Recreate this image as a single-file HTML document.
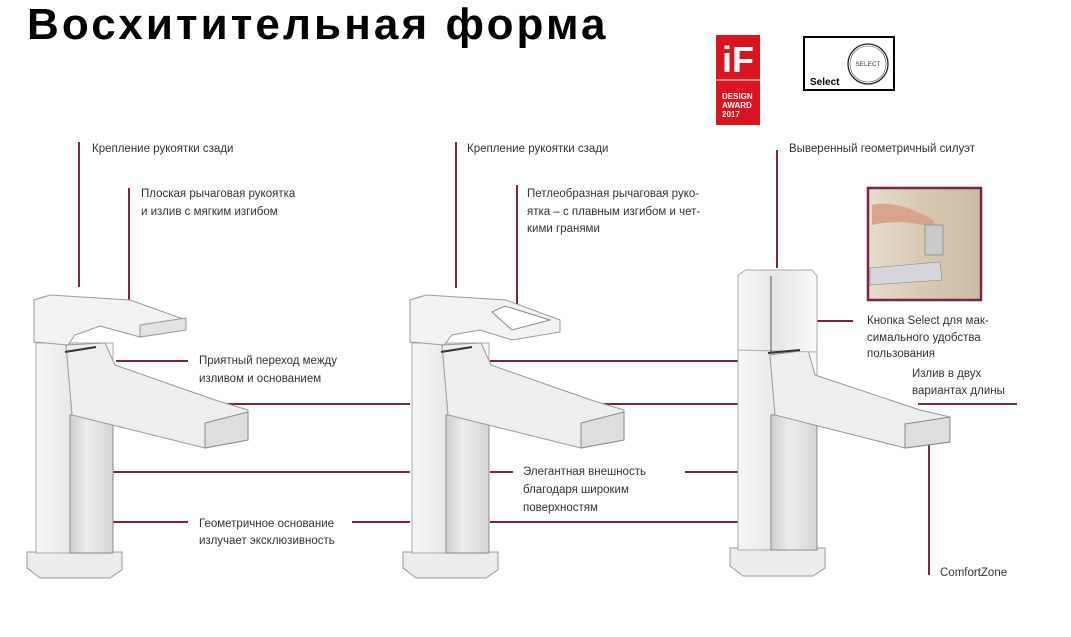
<!DOCTYPE html>
<html><head><meta charset="utf-8"><style>
html,body{margin:0;padding:0;background:#fff;}
body{width:1071px;height:637px;overflow:hidden;position:relative;font-family:"Liberation Sans","DejaVu Sans",sans-serif;}
svg{position:absolute;left:0;top:0;}
.t{font-family:"Liberation Sans",sans-serif;font-size:11.5px;fill:#333;}
</style></head><body>
<svg width="1071" height="637" viewBox="0 0 1071 637">
<defs>
<linearGradient id="ch" x1="0" y1="0" x2="1" y2="0">
<stop offset="0" stop-color="#f7f7f7"/><stop offset="0.5" stop-color="#e6e6e6"/><stop offset="1" stop-color="#f9f9f9"/></linearGradient>
<linearGradient id="ch2" x1="0" y1="0" x2="1" y2="0">
<stop offset="0" stop-color="#cfcfcf"/><stop offset="0.4" stop-color="#ececec"/><stop offset="1" stop-color="#d5d5d5"/></linearGradient>
<linearGradient id="ph" x1="0" y1="0" x2="1" y2="0">
<stop offset="0" stop-color="#e8dccd"/><stop offset="0.5" stop-color="#d8c8b0"/><stop offset="1" stop-color="#cbbba3"/></linearGradient>
<g id="fau">
<polygon points="27,552 122,552 122,570 110,578 40,578 27,568" fill="#ececec" stroke="#999" stroke-width="1"/>
<rect x="36" y="343" width="77" height="210" fill="url(#ch)" stroke="#aaa" stroke-width="1"/>
<rect x="70" y="415" width="43" height="138" fill="url(#ch2)" stroke="#888" stroke-width="1"/>
<polygon points="66,345 105,343 115,365 215,400 248,410 248,440 205,448 72,415" fill="#eeeeee" stroke="#999" stroke-width="1"/>
<polygon points="205,423 248,412 248,440 205,448" fill="#dedede" stroke="#888" stroke-width="1"/>
</g>
</defs>

<text x="27" y="39" font-family="'Liberation Sans',sans-serif" font-weight="bold" font-size="44" letter-spacing="3.1" fill="#000">Восхитительная форма</text>

<!-- iF logo -->
<rect x="716" y="35" width="44" height="90" fill="#d9141e"/>
<line x1="716" y1="80" x2="760" y2="80" stroke="#fff" stroke-width="1"/>
<text x="738" y="72" text-anchor="middle" font-family="'Liberation Sans',sans-serif" font-weight="bold" font-size="36" fill="#fff">iF</text>
<text x="722" y="99" font-family="'Liberation Sans',sans-serif" font-weight="bold" font-size="8" fill="#fff">DESIGN</text>
<text x="722" y="108" font-family="'Liberation Sans',sans-serif" font-weight="bold" font-size="8" fill="#fff">AWARD</text>
<text x="722" y="117" font-family="'Liberation Sans',sans-serif" font-weight="bold" font-size="8" fill="#fff">2017</text>

<!-- Select logo -->
<rect x="804" y="37" width="90" height="53" fill="#fff" stroke="#000" stroke-width="2"/>
<circle cx="868" cy="64" r="20" fill="none" stroke="#222" stroke-width="1.3"/>
<circle cx="868" cy="64" r="18" fill="none" stroke="#555" stroke-width="0.6"/>
<text x="868" y="66" text-anchor="middle" font-size="6.5" fill="#444" font-family="'Liberation Sans',sans-serif">SELECT</text>
<text x="810" y="85" font-size="10" font-weight="bold" fill="#000" font-family="'Liberation Sans',sans-serif">Select</text>

<!-- connector lines -->
<g stroke="#7a2544" stroke-width="2" fill="none">
<line x1="79" y1="142" x2="79" y2="287"/>
<line x1="129" y1="188" x2="129" y2="302"/>
<line x1="456" y1="142" x2="456" y2="288"/>
<line x1="517" y1="185" x2="517" y2="305"/>
<line x1="777" y1="150" x2="777" y2="268"/>
<line x1="116" y1="361" x2="188" y2="361"/>
<line x1="215" y1="404" x2="410" y2="404"/>
<line x1="113" y1="472" x2="410" y2="472"/>
<line x1="113" y1="522" x2="188" y2="522"/>
<line x1="352" y1="522" x2="410" y2="522"/>
<line x1="490" y1="361" x2="740" y2="361"/>
<line x1="590" y1="404" x2="740" y2="404"/>
<line x1="490" y1="472" x2="513" y2="472"/>
<line x1="685" y1="472" x2="740" y2="472"/>
<line x1="490" y1="522" x2="740" y2="522"/>
<line x1="817" y1="321" x2="853" y2="321"/>
<line x1="918" y1="404" x2="1017" y2="404"/>
<line x1="929" y1="445" x2="929" y2="575"/>
</g>

<!-- left faucet -->
<use href="#fau"/>
<polygon points="34,300 50,295 130,300 186,320 186,330 140,337 100,326 75,335 68,345 34,342" fill="#f2f2f2" stroke="#999" stroke-width="1"/>
<polygon points="140,325 186,318 186,330 140,337" fill="#e2e2e2" stroke="#999" stroke-width="1"/>
<line x1="65" y1="352" x2="96" y2="347" stroke="#333" stroke-width="2"/>

<!-- middle faucet -->
<use href="#fau" x="376"/>
<polygon points="410,300 426,295 506,300 560,320 560,332 512,340 480,330 452,335 444,345 410,342" fill="#f2f2f2" stroke="#999" stroke-width="1"/>
<polygon points="492,312 505,306 550,320 512,330" fill="#fff" stroke="#888" stroke-width="1"/>
<line x1="441" y1="352" x2="472" y2="347" stroke="#333" stroke-width="2"/>

<!-- right faucet -->
<polygon points="730,548 825,548 825,568 813,576 743,576 730,566" fill="#ececec" stroke="#999" stroke-width="1"/>
<rect x="738" y="350" width="79" height="200" fill="url(#ch)" stroke="#aaa" stroke-width="1"/>
<rect x="771" y="415" width="46" height="135" fill="url(#ch2)" stroke="#888" stroke-width="1"/>
<polygon points="770,355 808,350 815,375 920,410 950,417 950,442 905,448 775,415" fill="#eeeeee" stroke="#999" stroke-width="1"/>
<polygon points="905,424 950,417 950,442 905,448" fill="#dedede" stroke="#888" stroke-width="1"/>
<polygon points="738,275 746,270 812,270 817,276 817,352 738,350" fill="url(#ch)" stroke="#aaa" stroke-width="1"/>
<line x1="771" y1="276" x2="771" y2="352" stroke="#555" stroke-width="1"/>
<line x1="768" y1="353" x2="800" y2="350" stroke="#333" stroke-width="2"/>

<!-- photo -->
<rect x="868" y="188" width="113" height="112" fill="url(#ph)" stroke="#7a2544" stroke-width="2.5"/>
<path d="M872,205 C890,200 920,210 935,222 L932,228 C915,222 895,220 872,225 Z" fill="#d9a58a"/>
<rect x="925" y="225" width="18" height="30" fill="#c9c9cc" stroke="#777" stroke-width="0.6"/>
<path d="M870,268 L940,262 L942,280 L870,285 Z" fill="#d6d6dc" stroke="#888" stroke-width="0.6"/>

<!-- labels -->
<text class="t" x="92" y="152">Крепление рукоятки сзади</text>
<text class="t" x="141" y="197">Плоская рычаговая рукоятка</text>
<text class="t" x="141" y="215">и излив с мягким изгибом</text>
<text class="t" x="467" y="152">Крепление рукоятки сзади</text>
<text class="t" x="527" y="197">Петлеобразная рычаговая руко-</text>
<text class="t" x="527" y="215">ятка – с плавным изгибом и чет-</text>
<text class="t" x="527" y="232">кими гранями</text>
<text class="t" x="789" y="152">Выверенный геометричный силуэт</text>
<text class="t" x="199" y="364">Приятный переход между</text>
<text class="t" x="199" y="382">изливом и основанием</text>
<text class="t" x="523" y="475">Элегантная внешность</text>
<text class="t" x="523" y="493">благодаря широким</text>
<text class="t" x="523" y="511">поверхностям</text>
<text class="t" x="199" y="527">Геометричное основание</text>
<text class="t" x="199" y="544">излучает эксклюзивность</text>
<text class="t" x="867" y="324">Кнопка Select для мак-</text>
<text class="t" x="867" y="341">симального удобства</text>
<text class="t" x="867" y="357">пользования</text>
<text class="t" x="912" y="377">Излив в двух</text>
<text class="t" x="912" y="394">вариантах длины</text>
<text class="t" x="940" y="576">ComfortZone</text>
</svg>
</body></html>
